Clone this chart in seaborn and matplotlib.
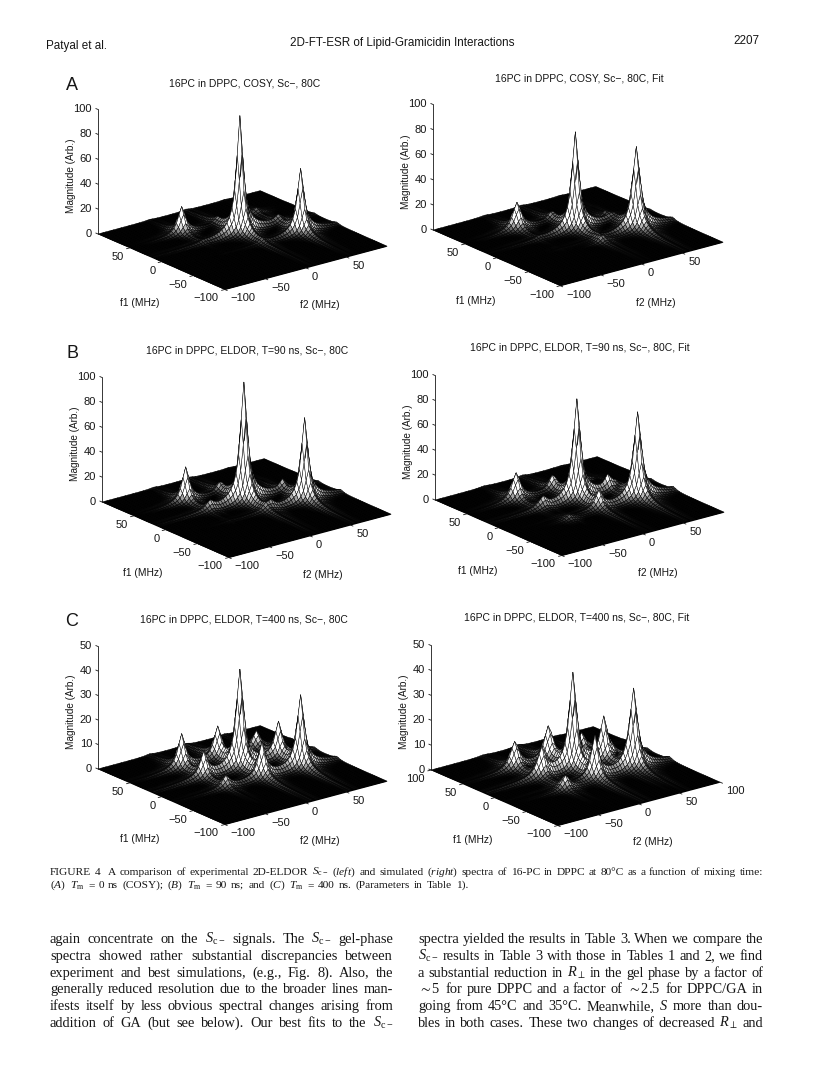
import numpy as np
import matplotlib
matplotlib.use("Agg")
import matplotlib.pyplot as plt
import seaborn as sns
from mpl_toolkits.mplot3d import proj3d

sns.set_theme(style="white")
plt.rcParams['font.family'] = ['Liberation Sans', 'DejaVu Sans']
plt.rcParams['mathtext.fontset'] = 'custom'
plt.rcParams['mathtext.rm'] = 'Liberation Serif'
plt.rcParams['mathtext.it'] = 'Liberation Serif:italic'
plt.rcParams['mathtext.fallback'] = 'stix'

# ---- values: peak centre f1, centre f2, height, width (MHz) ----
A_LEFT_F1 = [48, 14, -21, 48, 48, 14]
A_LEFT_F2 = [-36, 9, 55, 9, 55, 55]
A_LEFT_AMP = [22, 95, 52, 2, 4, 3]
A_LEFT_WID = [4.4, 3.8, 4.0, 4, 5, 5]

A_RIGHT_F1 = [48, 14, -21, 48, 20, -30]
A_RIGHT_F2 = [-36, 9, 55, 5, 50, 5]
A_RIGHT_AMP = [22, 78, 66, 4, 5, 4]
A_RIGHT_WID = [5.0, 4.0, 4.4, 4, 4, 4]

B_LEFT_F1 = [48, 14, -21, 14, -21, 48, 14]
B_LEFT_F2 = [-36, 9, 55, -32, 14, 4, 55]
B_LEFT_AMP = [28, 96, 67, 5, 5, 5, 5]
B_LEFT_WID = [4.2, 4.0, 4.0, 3.8, 3.8, 3.4, 3.4]

B_RIGHT_F1 = [48, 14, -21, 48, 14, -26, -21, 14, 48]
B_RIGHT_F2 = [-40, 9, 55, 4, -34, -32, 9, 46, 45]
B_RIGHT_AMP = [22, 80, 70, 9, 7, 4, 10, 10, 4]
B_RIGHT_WID = [5.0, 4.2, 4.4, 4.0, 4.0, 4.0, 4.0, 3.8, 3.8]

C_LEFT_F1 = [48, 48, 14, 14, -21, -21, 14, -21, 48]
C_LEFT_F2 = [-36, 9, 9, 55, 9, 55, -36, -36, 55]
C_LEFT_AMP = [13.5, 11, 39, 12.5, 12, 29, 9, 4, 6]
C_LEFT_WID = [4.4, 4.4, 4.2, 4.2, 4.2, 4.2, 4.2, 4.4, 4.2]

C_RIGHT_F1 = [48, 48, 14, 48, 14, -21, -21, 14, -26]
C_RIGHT_F2 = [-36, 4, 9, 45, 46, 9, 55, -30, -32]
C_RIGHT_AMP = [10.6, 12, 37, 6.3, 16, 15, 32, 10.6, 5.3]
C_RIGHT_WID = [5.0, 4.6, 4.2, 4.2, 4.2, 4.2, 4.4, 4.4, 4.4]

F_TICKS = [-100, -50, 0, 50]
F_TICKS_C_RIGHT = [-100, -50, 0, 50, 100]
Z_TICKS_100 = [0, 20, 40, 60, 80, 100]
Z_TICKS_50 = [0, 10, 20, 30, 40, 50]

TITLES = ["16PC in DPPC, COSY, Sc\u2212, 80C", "16PC in DPPC, COSY, Sc\u2212, 80C, Fit",
          "16PC in DPPC, ELDOR, T=90 ns, Sc\u2212, 80C", "16PC in DPPC, ELDOR, T=90 ns, Sc\u2212, 80C, Fit",
          "16PC in DPPC, ELDOR, T=400 ns, Sc\u2212, 80C", "16PC in DPPC, ELDOR, T=400 ns, Sc\u2212, 80C, Fit"]

# ---- page layout (pixels) ----
W, H = 816, 1090
fig = plt.figure(figsize=(W / 100, H / 100), dpi=100, facecolor='white')
renderer = fig.canvas.get_renderer()
INK = '#161616'

def ptext(x, y, s, **kw):
    kw.setdefault('color', INK)
    return fig.text(x / W, 1 - y / H, s, **kw)

grid = np.linspace(-100, 100, 64)
X, Y = np.meshgrid(grid, grid)
cmap = sns.color_palette("gray", as_cmap=True)

def snap(v):
    return grid[np.argmin(np.abs(grid - v))]

def panel(f1s, f2s, amps, wids, zmax, zticks, fticks, left, front, right, top, title, title_xy):
    Z = np.zeros_like(X)
    for a, b, h, w in zip(f1s, f2s, amps, wids):
        d1, d2 = (Y - snap(a)) / w, (X - snap(b)) / w
        Z += h / ((1 + d1 ** 2) * (1 + d2 ** 2)) ** 0.72
    gy, gx = np.gradient(Z * 100 / zmax, grid, grid)
    slope = np.hypot(gx, gy)
    fc = cmap(np.clip((slope - 0.05) / 1.1, 0, 1) ** 0.9)

    ax = fig.add_axes([0, 0, 400 / W, 400 / H], projection='3d', proj_type='ortho')
    ax.set_axis_off()
    ax.patch.set_alpha(0)
    ax.computed_zorder = False
    ax.view_init(elev=20, azim=-128)
    ax.set_xlim(-100, 100); ax.set_ylim(-100, 100); ax.set_zlim(0, zmax)
    ax.set_box_aspect((1, 1, (left[1] - top[1]) / (right[0] - left[0]) * 1.5))

    def px(x, y, z):
        u, v, _ = proj3d.proj_transform(x, y, z, ax.get_proj())
        return ax.transData.transform((u, v))

    # fit the axes so the floor corners land on the page positions
    s = 400.0
    for _ in range(3):
        ax.apply_aspect()
        lp, rp = px(-100, 100, 0), px(100, -100, 0)
        s *= (right[0] - left[0]) / (rp[0] - lp[0])
        ax.set_position([0, 0, s / W, s / H])
        ax.apply_aspect()
        lp = px(-100, 100, 0)
        ax.set_position([(left[0] - lp[0]) / W, ((H - left[1]) - lp[1]) / H, s / W, s / H])
        ax.apply_aspect()

    # solid black floor under the mesh
    ax.plot_surface(np.array([[-100, 100], [-100, 100]]), np.array([[-100, -100], [100, 100]]),
                    np.zeros((2, 2)), color='black', shade=False, linewidth=0, zorder=1.5)
    ax.plot_surface(X, Y, Z, rcount=64, ccount=64, facecolors=fc, edgecolor='#050505',
                    linewidth=0.32, shade=False, antialiased=True, zorder=2)

    # z axis with ticks, drawn behind the surface
    ax.plot([-100, -100], [100, 100], [0, zmax], color=INK, lw=0.6, zorder=1)
    for t in zticks:
        ax.plot([-100, -100], [100, 103.5], [t, t], color=INK, lw=0.6, zorder=1)
        u, v, _ = proj3d.proj_transform(-100, 100, t, ax.get_proj())
        ax.annotate(str(t).replace('-', '\u2212'), (u, v), xytext=(-6, 0), textcoords='offset pixels',
                    ha='right', va='center', fontsize=8, color=INK, annotation_clip=False)
    for t in fticks:
        lab = str(t).replace('-', '\u2212')
        ax.plot([-100, -104], [t, t], [0, 0], color=INK, lw=0.6, zorder=3)
        u, v, _ = proj3d.proj_transform(-100, t, 0, ax.get_proj())
        ax.annotate(lab, (u, v), xytext=(-6, -9), textcoords='offset pixels', ha='right', va='center',
                    fontsize=8, color=INK, annotation_clip=False)
        ax.plot([t, t], [-100, -104], [0, 0], color=INK, lw=0.6, zorder=3)
        u, v, _ = proj3d.proj_transform(t, -100, 0, ax.get_proj())
        ax.annotate(lab, (u, v), xytext=(6, -9), textcoords='offset pixels', ha='left', va='center',
                    fontsize=8, color=INK, annotation_clip=False)

    ptext(front[0] - 85, front[1] + 13, "f1 (MHz)", ha='center', va='center', fontsize=7.4)
    ptext(front[0] + 95, front[1] + 15, "f2 (MHz)", ha='center', va='center', fontsize=7.4)
    ptext(left[0] - 27, (left[1] + top[1]) / 2 + 4, "Magnitude (Arb.)", rotation=90, ha='center',
          va='center', fontsize=7.2)
    ptext(title_xy[0], title_xy[1], title, ha='center', va='center', fontsize=7.5)

panel(A_LEFT_F1, A_LEFT_F2, A_LEFT_AMP, A_LEFT_WID, 100, Z_TICKS_100, F_TICKS,
      (98, 234), (225, 290), (387, 247), (98, 110), TITLES[0], (245, 83))
panel(A_RIGHT_F1, A_RIGHT_F2, A_RIGHT_AMP, A_RIGHT_WID, 100, Z_TICKS_100, F_TICKS,
      (433, 230), (561, 288), (723, 243), (431, 105), TITLES[1], (579, 78))
panel(B_LEFT_F1, B_LEFT_F2, B_LEFT_AMP, B_LEFT_WID, 100, Z_TICKS_100, F_TICKS,
      (102, 502), (228, 560), (391, 515), (100, 378), TITLES[2], (247, 350))
panel(B_RIGHT_F1, B_RIGHT_F2, B_RIGHT_AMP, B_RIGHT_WID, 100, Z_TICKS_100, F_TICKS,
      (435, 500), (563, 558), (724, 513), (433, 376), TITLES[3], (580, 348))
panel(C_LEFT_F1, C_LEFT_F2, C_LEFT_AMP, C_LEFT_WID, 50, Z_TICKS_50, F_TICKS,
      (98, 769), (225, 826), (387, 783), (98, 647), TITLES[4], (244, 619))
panel(C_RIGHT_F1, C_RIGHT_F2, C_RIGHT_AMP, C_RIGHT_WID, 50, Z_TICKS_50, F_TICKS_C_RIGHT,
      (431, 770), (558, 827), (720, 783), (429, 646), TITLES[5], (577, 618))

# ---- page furniture ----
for letter, y in zip("ABC", (85, 353, 621)):
    ptext(72, y, letter, ha='center', va='center', fontsize=13)
ptext(46, 46, "Patyal et al.", fontsize=8.4, va='center')
ptext(402, 43, "2D-FT-ESR of Lipid-Gramicidin Interactions", fontsize=8.4, ha='center', va='center')
ptext(759, 41, "2207", fontsize=8.4, ha='right', va='center')

def justified(line, x0, x1, y, size):
    words = line.split(' ')
    arts = [ptext(0, y, w, fontsize=size, family='Liberation Serif', va='baseline') for w in words]
    widths = [a.get_window_extent(renderer).width for a in arts]
    gap = (x1 - x0 - sum(widths)) / max(len(words) - 1, 1)
    x = x0
    for a, w in zip(arts, widths):
        a.set_x(x / W)
        x += w + gap

S = r'$S_{\mathrm{c-}}$'
Rp = r'$R_{\perp}$'
Tm = r'$T_{\mathrm{m}}$'
CAPTION_1 = ("FIGURE 4  A comparison of experimental 2D-ELDOR " + S + r" ($\mathit{left}$) and simulated ($\mathit{right}$) "
             "spectra of 16-PC in DPPC at 80\u00b0C as a function of mixing time:")
CAPTION_2 = (r"($\mathit{A}$) " + Tm + r" = 0 ns (COSY); ($\mathit{B}$) " + Tm + r" = 90 ns; and ($\mathit{C}$) " + Tm +
             " = 400 ns. (Parameters in Table 1).")
LEFT_BODY = ["again concentrate on the " + S + " signals. The " + S + " gel-phase",
             "spectra showed rather substantial discrepancies between",
             "experiment and best simulations, (e.g., Fig. 8). Also, the",
             "generally reduced resolution due to the broader lines man-",
             "ifests itself by less obvious spectral changes arising from",
             "addition of GA (but see below). Our best fits to the " + S]
RIGHT_BODY = ["spectra yielded the results in Table 3. When we compare the",
              S + " results in Table 3 with those in Tables 1 and 2, we find",
              "a substantial reduction in " + Rp + " in the gel phase by a factor of",
              r"$\sim$5 for pure DPPC and a factor of $\sim$2.5 for DPPC/GA in",
              "going from 45\u00b0C and 35\u00b0C. Meanwhile, $S$ more than dou-",
              "bles in both cases. These two changes of decreased " + Rp + " and"]

justified(CAPTION_1, 50, 763, 875, 8.2)
justified(CAPTION_2, 50, 468, 888, 8.2)
for i, line in enumerate(LEFT_BODY):
    justified(line, 50, 393, 943 + 16.8 * i, 10.4)
for i, line in enumerate(RIGHT_BODY):
    justified(line, 418, 763, 943 + 16.8 * i, 10.4)

fig.savefig("out.png", dpi=100, facecolor='white')
